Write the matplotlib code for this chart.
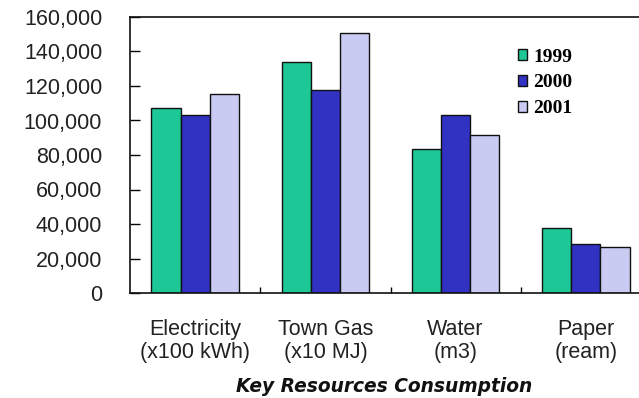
import matplotlib
matplotlib.use("Agg")
import matplotlib.pyplot as plt
import numpy as np

categories = ["Electricity\n(x100 kWh)", "Town Gas\n(x10 MJ)", "Water\n(m3)", "Paper\n(ream)"]
years = ["1999", "2000", "2001"]
v1999 = [107000, 134000, 83300, 37500]
v2000 = [103400, 117700, 103400, 28200]
v2001 = [115200, 150500, 91800, 26900]
yticks = [0, 20000, 40000, 60000, 80000, 100000, 120000, 140000, 160000]
ytick_labels = ["0", "20,000", "40,000", "60,000", "80,000", "100,000", "120,000", "140,000", "160,000"]
colors = ["#1ec896", "#3232c2", "#c9cbf3"]

W, H = 639, 398
fig = plt.figure(figsize=(W / 100, H / 100), dpi=100)
ax = fig.add_axes([130 / W, 1 - 293 / H, (651 - 130) / W, (293 - 17) / H])

x = np.arange(len(categories))
w = 0.224
for i, (vals, lab) in enumerate(zip([v1999, v2000, v2001], years)):
    ax.bar(x + (i - 1) * w, vals, width=w, color=colors[i], edgecolor="#111111",
           linewidth=1.0, label=lab, zorder=2)

ax.set_xlim(-0.5, len(categories) - 0.5)
ax.set_ylim(0, 160000)
ax.set_yticks(yticks)
ax.set_yticklabels(ytick_labels, fontfamily="Liberation Sans", fontsize=15.5, color="#222222")
ax.set_xticks(x)
ax.set_xticklabels(categories, fontfamily="Liberation Sans", fontsize=15.5, color="#222222",
                   linespacing=1.12)
ax.set_xticks(np.arange(len(categories) - 1) + 0.5, minor=True)
ax.tick_params(axis="y", direction="in", length=7, width=1, pad=20)
ax.tick_params(axis="x", which="major", length=0, pad=19)
ax.tick_params(axis="x", which="minor", direction="in", length=4, width=1)
for s in ["left", "bottom", "top"]:
    ax.spines[s].set_linewidth(1.2)
    ax.spines[s].set_color("#111111")
ax.spines["right"].set_visible(False)

leg = ax.legend(loc="upper left", bbox_to_anchor=(508 / W, 1 - 39 / H),
                bbox_transform=fig.transFigure, frameon=False, borderpad=0,
                handlelength=0.5, handleheight=0.5, handletextpad=0.3,
                labelspacing=0.45,
                prop={"family": "Liberation Serif", "weight": "bold", "size": 14})

fig.text(384 / W, 1 - 386 / H, "Key Resources Consumption", ha="center", va="center",
         fontfamily="DejaVu Sans", fontweight="bold", fontstyle="italic", fontsize=13.4,
         color="#111111")

fig.savefig("out.png", dpi=100)
